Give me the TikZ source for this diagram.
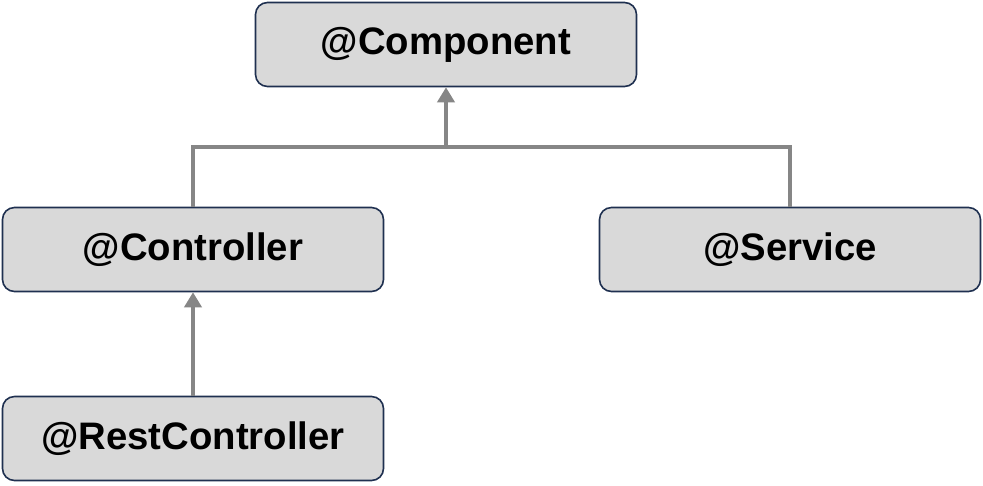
\documentclass[tikz,border=0pt]{standalone}
\usepackage{fontspec}
\setmainfont{Liberation Sans}
\usetikzlibrary{arrows.meta}
\definecolor{boxfill}{HTML}{D9D9D9}
\definecolor{boxline}{HTML}{1F3050}
\definecolor{link}{HTML}{868686}
\begin{document}
\begin{tikzpicture}[
    anno/.style={draw=boxline, line width=0.9pt, fill=boxfill, rounded corners=0.24cm,
      minimum width=7.62cm, minimum height=1.68cm, inner sep=0pt,
      font=\fontsize{21.8pt}{26pt}\selectfont\bfseries},
    link/.style={draw=link, line width=2.8pt},
    inherit/.style={link, -{Triangle[width=0.34cm, length=0.3cm]}}
  ]
  \useasboundingbox (0,0) rectangle (19.66,-9.7);
  \node[anno] (comp) at (8.92, -0.89){@Component};
  \node[anno] (ctrl) at (3.86, -4.99){@Controller};
  \node[anno] (serv) at (15.8, -4.99){@Service};
  \node[anno] (rest) at (3.86, -8.77){@RestController};

  \coordinate (j) at (8.92, -2.94);
  \draw[link] (ctrl.north) |- (j) -| (serv.north);
  \draw[inherit] (j) -- (comp.south);
  \draw[inherit] (rest.north) -- (ctrl.south);
\end{tikzpicture}
\end{document}
